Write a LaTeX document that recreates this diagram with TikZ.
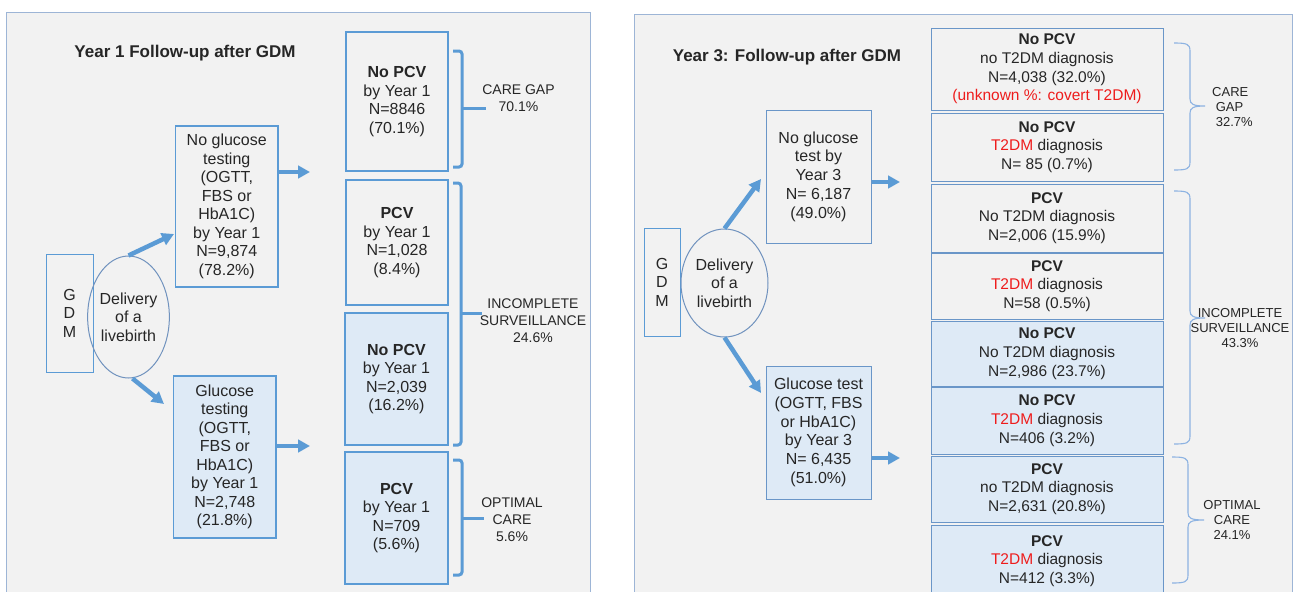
\documentclass[tikz,border=0pt]{standalone}
\usepackage{fontspec}
\setmainfont{Liberation Sans}
\usetikzlibrary{arrows.meta,shapes.geometric}
\definecolor{panelfill}{HTML}{F2F2F2}
\definecolor{panelline}{HTML}{9DB5D6}
\definecolor{boxline}{HTML}{5B9BD5}
\definecolor{boxlinetwo}{HTML}{6A96C8}
\definecolor{lightfill}{HTML}{DEEAF6}
\definecolor{arrowblue}{HTML}{5B9BD5}
\definecolor{bracelight}{HTML}{8DB3E2}
\definecolor{ellline}{HTML}{7092BE}
\definecolor{txt}{HTML}{262626}
\definecolor{redtxt}{HTML}{EE1C1C}
\newcommand\redt[1]{\textcolor{redtxt}{#1}}
\begin{document}
\begin{tikzpicture}[x=1pt,y=-1pt,
  every node/.style={text=txt, inner sep=0pt, align=center},
  panel/.style={draw=panelline, line width=1pt, fill=panelfill},
  titletext/.style={font=\fontsize{17}{20}\selectfont\bfseries},
  lbox/.style={draw=boxline, line width=1.5pt, font=\fontsize{16}{18.5}\selectfont},
  lboxf/.style={lbox, fill=lightfill},
  rbox/.style={draw=boxlinetwo, line width=1pt, font=\fontsize{15.5}{18.7}\selectfont},
  rboxf/.style={rbox, fill=lightfill},
  gdmbox/.style={draw=boxline, line width=1pt, font=\fontsize{16}{18.5}\selectfont},
  deliv/.style={ellipse, draw=ellline, line width=1pt, font=\fontsize{16}{18.5}\selectfont},
  arr/.style={draw=arrowblue, line width=4.5pt, -{Triangle[length=12pt,width=12.5pt]}},
  lbrk/.style={draw=arrowblue, line width=3pt, rounded corners=3pt},
  rbrc/.style={draw=bracelight, line width=1.1pt},
  llabel/.style={font=\fontsize{14}{17}\selectfont},
  rlabel/.style={font=\fontsize{13}{15}\selectfont}
]
\useasboundingbox (0,0) rectangle (1294,592);
\clip (0,0) rectangle (1294,592);

% ---------------- Left panel ----------------
\draw[panel] (6,12) rectangle (590,610);
\node[titletext] (t1) at (185,53) {Year 1 Follow-up after GDM};

\node[gdmbox, minimum width=47, minimum height=118] (gdm1) at (69.5,313) {G\\D\\M};
\node[deliv, minimum width=71, minimum height=122] (del1) at (128.5,317) {Delivery\\of a\\livebirth};

\node[lbox, minimum width=102.5, minimum height=161] (ng1) at (226.75,206.5)
  {No glucose\\testing\\(OGTT,\\FBS or\\HbA1C)\\by Year 1\\N=9,874\\(78.2\%)};
\node[lboxf, minimum width=102.5, minimum height=162] (g1) at (224.75,457)
  {Glucose\\testing\\(OGTT,\\FBS or\\HbA1C)\\by Year 1\\N=2,748\\(21.8\%)};

\node[lbox, minimum width=102, minimum height=139] (b1) at (397,101.5)
  {\textbf{No PCV}\\by Year 1\\N=8846\\(70.1\%)};
\node[lbox, minimum width=102, minimum height=125] (b2) at (397,242.5)
  {\textbf{PCV}\\by Year 1\\N=1,028\\(8.4\%)};
\node[lboxf, minimum width=103, minimum height=132] (b3) at (396.5,379)
  {\textbf{No PCV}\\by Year 1\\N=2,039\\(16.2\%)};
\node[lboxf, minimum width=103, minimum height=132] (b4) at (396.5,518)
  {\textbf{PCV}\\by Year 1\\N=709\\(5.6\%)};

\coordinate (a1e) at (174,234);
\coordinate (a2e) at (164,404);
\coordinate (h1e) at (310,172);
\coordinate (h2e) at (310,446);
\draw[arr] (del1.north) -- (a1e);
\draw[arr] ([xshift=4pt]del1.south) -- (a2e);
\draw[arr] (ng1.east |- h1e) -- (h1e);
\draw[arr] (g1.east |- h2e) -- (h2e);

\draw[lbrk] (453,51) -- (462,51) -- (462,167) -- (453,167);
\draw[lbrk] (462,108) -- (486,108);
\draw[lbrk] (453,183) -- (461,183) -- (461,445) -- (453,445);
\draw[lbrk] (461,313) -- (482,313);
\draw[lbrk] (453,460) -- (462,460) -- (462,575) -- (453,575);
\draw[lbrk] (462,518) -- (484,518);

\node[llabel] (l1) at (518.5,98) {CARE GAP\\70.1\%};
\node[llabel] (l2) at (533,321) {INCOMPLETE\\SURVEILLANCE\\24.6\%};
\node[llabel] (l3) at (512,519.5) {OPTIMAL\\CARE\\5.6\%};

% ---------------- Right panel ----------------
\draw[panel] (634,14) rectangle (1292,610);
\node[titletext] (t2) at (787,57) {Year 3: Follow-up after GDM};

\node[gdmbox, minimum width=36, minimum height=108] (gdm2) at (662,282) {G\\D\\M};
\node[deliv, minimum width=87, minimum height=108] (del2) at (724.5,283) {Delivery\\of a\\livebirth};

\node[rbox, font=\fontsize{16}{18.7}\selectfont, minimum width=105, minimum height=133] (ng2) at (818.5,176.5)
  {No glucose\\test by\\Year 3\\N= 6,187\\(49.0\%)};
\node[rboxf, font=\fontsize{16}{18.7}\selectfont, minimum width=105, minimum height=133] (g2) at (818.5,432.5)
  {Glucose test\\(OGTT, FBS\\or HbA1C)\\by Year 3\\N= 6,435\\(51.0\%)};

\node[rbox, minimum width=232, minimum height=82] (r1) at (1047,69)
  {\textbf{No PCV}\\no T2DM diagnosis\\N=4,038 (32.0\%)\\\redt{(unknown \%: covert T2DM)}};
\node[rbox, minimum width=232, minimum height=68] (r2) at (1047,147)
  {\textbf{No PCV}\\\redt{T2DM} diagnosis\\N= 85 (0.7\%)};
\node[rbox, minimum width=232, minimum height=68] (r3) at (1047,218)
  {\textbf{PCV}\\No T2DM diagnosis\\N=2,006 (15.9\%)};
\node[rbox, minimum width=232, minimum height=66] (r4) at (1047,286)
  {\textbf{PCV}\\\redt{T2DM} diagnosis\\N=58 (0.5\%)};
\node[rboxf, minimum width=232, minimum height=65] (r5) at (1047,353.5)
  {\textbf{No PCV}\\No T2DM diagnosis\\N=2,986 (23.7\%)};
\node[rboxf, minimum width=232, minimum height=67] (r6) at (1047,420.5)
  {\textbf{No PCV}\\\redt{T2DM} diagnosis\\N=406 (3.2\%)};
\node[rboxf, minimum width=232, minimum height=66] (r7) at (1047,489)
  {\textbf{PCV}\\no T2DM diagnosis\\N=2,631 (20.8\%)};
\node[rboxf, minimum width=232, minimum height=72] (r8) at (1047,561)
  {\textbf{PCV}\\\redt{T2DM} diagnosis\\N=412 (3.3\%)};

\coordinate (a3e) at (761,179);
\coordinate (a4e) at (761,393);
\coordinate (h3e) at (900,182);
\coordinate (h4e) at (900,458);
\draw[arr] (del2.north) -- (a3e);
\draw[arr] (del2.south) -- (a4e);
\draw[arr] (ng2.east |- h3e) -- (h3e);
\draw[arr] (g2.east |- h4e) -- (h4e);

% curly braces
\draw[rbrc] (1174,43) .. controls (1187,43) and (1190,44) .. (1190,51) -- (1190,99)
  .. controls (1190,104) and (1193,106) .. (1205,106)
  .. controls (1193,106) and (1190,108) .. (1190,113) -- (1190,162)
  .. controls (1190,169) and (1187,170) .. (1174,170);
\draw[rbrc] (1174,191) .. controls (1187,191) and (1190,192) .. (1190,199) -- (1190,311)
  .. controls (1190,316) and (1193,318) .. (1205,318)
  .. controls (1193,318) and (1190,320) .. (1190,325) -- (1190,436)
  .. controls (1190,443) and (1187,444) .. (1174,444);
\draw[rbrc] (1172,457) .. controls (1185,457) and (1188,458) .. (1188,465) -- (1188,513)
  .. controls (1188,518) and (1191,520) .. (1204,520)
  .. controls (1191,520) and (1188,522) .. (1188,527) -- (1188,575)
  .. controls (1188,582) and (1185,583) .. (1172,583);

\node[rlabel, align=left, anchor=west] (l4) at (1212,107) {CARE\\\ GAP\\\ 32.7\%};
\node[rlabel] (l5) at (1240,328) {INCOMPLETE\\SURVEILLANCE\\43.3\%};
\node[rlabel] (l6) at (1232,520) {OPTIMAL\\CARE\\24.1\%};
\end{tikzpicture}
\end{document}
